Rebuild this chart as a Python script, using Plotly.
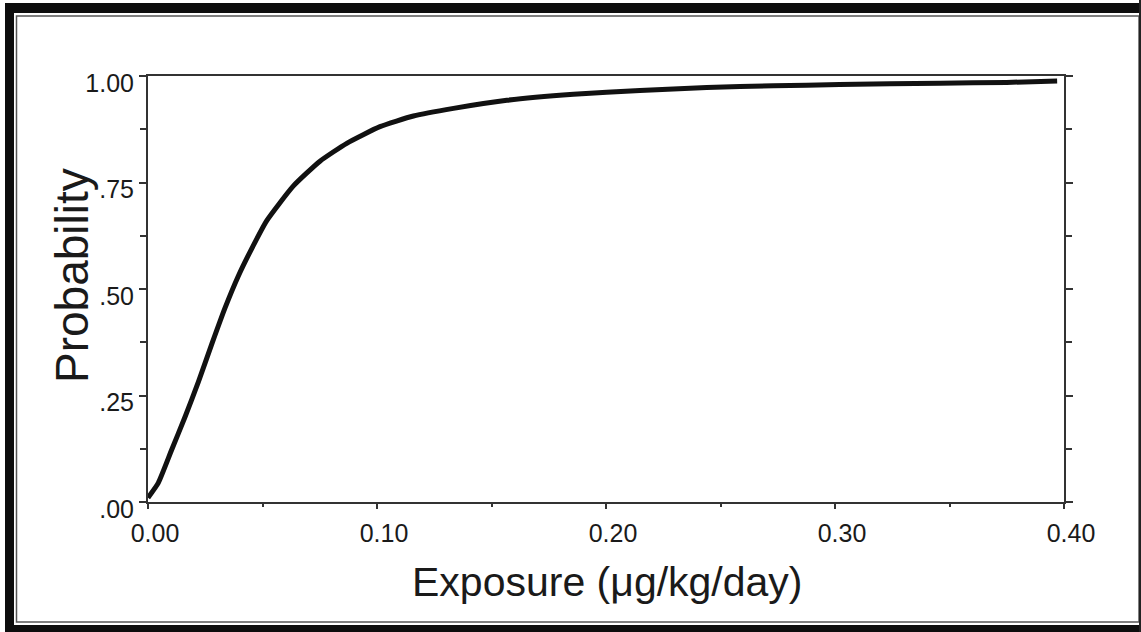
import plotly.graph_objects as go

# Cumulative probability of daily exposure
exposure = [0.0, 0.0045, 0.0103, 0.0162, 0.022, 0.0278, 0.0336, 0.0394, 0.0453,
            0.0518, 0.0635, 0.0751, 0.0868, 0.1013, 0.1159, 0.1334, 0.1567,
            0.1858, 0.2148, 0.244, 0.273, 0.302, 0.346, 0.375, 0.397]
probability = [0.01, 0.045, 0.122, 0.200, 0.282, 0.370, 0.455, 0.530, 0.595,
               0.660, 0.742, 0.800, 0.842, 0.881, 0.906, 0.924, 0.943,
               0.957, 0.966, 0.973, 0.977, 0.980, 0.983, 0.985, 0.988]

x_ticks = [0.0, 0.1, 0.2, 0.3, 0.4]
x_tick_text = ["0.00", "0.10", "0.20", "0.30", "0.40"]
y_ticks = [0.0, 0.25, 0.5, 0.75, 1.0]
y_tick_text = [".00", ".25", ".50", ".75", "1.00"]

W, H = 1141, 632
L, R, T, B = 148, 77, 76, 130
PW, PH = W - L - R, H - T - B


def px(x):
    return (x - L) / PW


def py(y):
    return (H - B - y) / PH


FONT = "Liberation Sans, Arial, sans-serif"
INK = "#1a1a1a"

fig = go.Figure()
fig.add_trace(go.Scatter(
    x=exposure, y=probability, mode="lines",
    line=dict(color="#111111", width=5, shape="spline", smoothing=0.5),
    showlegend=False, hoverinfo="skip",
))

axis_common = dict(
    showgrid=False, zeroline=False, showline=True, linecolor="#333333",
    linewidth=2, ticks="outside", tickcolor="#333333", tickwidth=2,
    tickfont=dict(family=FONT, size=25, color=INK),
)

fig.update_xaxes(
    range=[0, 0.4], tickmode="array", tickvals=x_ticks, ticktext=x_tick_text,
    ticklen=5, mirror=True, ticklabelshift=7, ticklabelstandoff=3,
    minor=dict(tickvals=[0.05, 0.15, 0.25, 0.35], ticklen=3,
               tickcolor="#333333", ticks="outside"),
    **axis_common,
)
fig.update_yaxes(
    range=[0, 1], tickmode="array", tickvals=y_ticks, ticktext=y_tick_text,
    ticklen=7, mirror="ticks", ticklabelshift=7, ticklabelstandoff=0,
    minor=dict(tickvals=[0.125, 0.375, 0.625, 0.875], ticklen=6,
               tickcolor="#333333", ticks="outside"),
    **axis_common,
)

# Axis titles
fig.add_annotation(
    text="Probability", x=px(72), y=py(276), xref="paper", yref="paper",
    textangle=-90, showarrow=False, xanchor="center", yanchor="middle",
    font=dict(family=FONT, size=46, color=INK),
)
fig.add_annotation(
    text="Exposure (μg/kg/day)", x=px(607), y=py(582), xref="paper", yref="paper",
    showarrow=False, xanchor="center", yanchor="middle",
    font=dict(family=FONT, size=41, color=INK),
)

# Page frame: heavy black rule with a thin inner line
frame = [
    (5, 3, 14, 632, "#0d0d0d"),       # left band
    (5, 3, 1141, 13, "#0d0d0d"),      # top band
    (5, 625, 1141, 632, "#0d0d0d"),   # bottom band
]
shapes = []
for x0, y0, x1, y1, c in frame:
    shapes.append(dict(type="rect", xref="paper", yref="paper",
                       x0=px(x0), x1=px(x1), y0=py(y1), y1=py(y0),
                       fillcolor=c, line=dict(width=0), layer="above"))
shapes.append(dict(type="rect", xref="paper", yref="paper",
                   x0=px(16.5), x1=px(1139), y0=py(622), y1=py(16),
                   fillcolor="rgba(0,0,0,0)",
                   line=dict(color="#555555", width=1.5), layer="above"))
shapes.append(dict(type="line", xref="paper", yref="paper",
                   x0=px(1140), x1=px(1140), y0=py(632), y1=py(0),
                   line=dict(color="#222222", width=2), layer="above"))

fig.update_layout(
    width=W, height=H, autosize=False,
    margin=dict(l=L, r=R, t=T, b=B, pad=0),
    paper_bgcolor="white", plot_bgcolor="white",
    shapes=shapes,
)

fig.write_html("out.html")
